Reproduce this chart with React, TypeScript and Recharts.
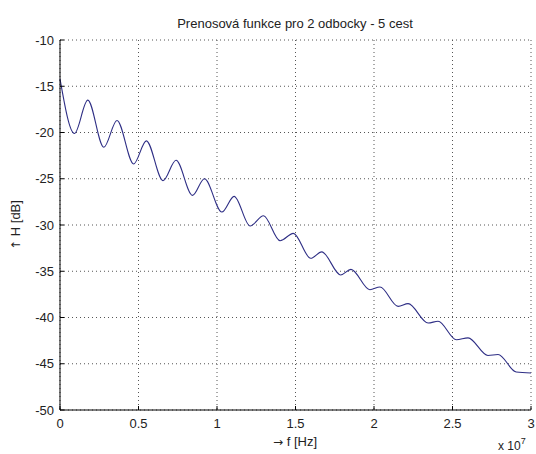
import { LineChart, Line, XAxis, YAxis, CartesianGrid } from "recharts";

// frequency in units of 1e7 Hz at ripple peaks/troughs
const freqE7 = [
  0, 0.092, 0.177, 0.279, 0.363, 0.469, 0.55, 0.656, 0.739, 0.844, 0.92,
  1.031, 1.109, 1.211, 1.296, 1.402, 1.486, 1.597, 1.667, 1.788, 1.853,
  1.974, 2.038, 2.154, 2.217, 2.345, 2.408, 2.525, 2.599, 2.726, 2.79, 2.906, 3.0,
];
const gainDb = [
  -14.2, -20.1, -16.5, -21.6, -18.7, -23.4, -20.9, -25.2, -23.0, -26.8, -25.0,
  -28.6, -26.9, -30.1, -29.0, -31.7, -30.9, -33.6, -32.9, -35.4, -34.8,
  -37.0, -36.7, -38.8, -38.5, -40.6, -40.4, -42.4, -42.2, -44.1, -44.0, -45.9, -46.0,
];
const xTicks = [0, 0.5, 1, 1.5, 2, 2.5, 3].map((v) => v * 1e7);
const yTicks = [-50, -45, -40, -35, -30, -25, -20, -15, -10];

const data = freqE7.map((f, i) => ({ f: f * 1e7, h: gainDb[i] }));

const FONT = "'Liberation Sans', Arial, Helvetica, sans-serif";
const ARROW_FONT = "'DejaVu Sans', sans-serif";
const TXT = "#222";
const Y_MARGIN = 6;

function YTick(props: any) {
  const { x, y, payload } = props;
  const ax = x + Y_MARGIN;
  return (
    <g>
      <line x1={ax} x2={ax + 4} y1={y} y2={y} stroke="#000" />
      <text x={x} y={y + 4.5} textAnchor="end" fontSize={13} fontFamily={FONT} fill={TXT}>
        {payload.value}
      </text>
    </g>
  );
}

function XTick(props: any) {
  const { x, y, payload } = props;
  return (
    <g>
      <line x1={x} x2={x} y1={y} y2={y - 4} stroke="#000" />
      <text x={x} y={y + 18} textAnchor="middle" fontSize={13} fontFamily={FONT} fill={TXT}>
        {payload.value / 1e7}
      </text>
    </g>
  );
}

export default function App() {
  return (
    <div style={{ position: "absolute", left: 0, top: 0, width: 536, height: 454, background: "#fff" }}>
      <LineChart width={536} height={454} data={data} margin={{ top: 40, right: 5, bottom: 0, left: 0 }}>
        <CartesianGrid stroke="#555" strokeDasharray="1 3" />
        <XAxis
          dataKey="f"
          type="number"
          domain={[0, 3e7]}
          ticks={xTicks}
          height={44}
          tickSize={0}
          tickMargin={0}
          axisLine={{ stroke: "#000" }}
          tick={<XTick />}
          interval={0}
        />
        <YAxis
          type="number"
          domain={[-50, -10]}
          ticks={yTicks}
          width={60}
          tickSize={0}
          tickMargin={Y_MARGIN}
          axisLine={{ stroke: "#000" }}
          tick={<YTick />}
          interval={0}
        />
        <Line
          type="monotone"
          dataKey="h"
          stroke="#2e2e85"
          strokeWidth={1.1}
          dot={false}
          isAnimationActive={false}
        />
      </LineChart>
      <svg
        width={536}
        height={454}
        style={{ position: "absolute", left: 0, top: 0, pointerEvents: "none" }}
        fontFamily={FONT}
        fill={TXT}
        fontSize={13}
      >
        <text x={295} y={28} textAnchor="middle">
          Prenosová funkce pro 2 odbocky - 5 cest
        </text>
        <text x={295} y={446} textAnchor="middle">
          <tspan fontFamily={ARROW_FONT} fontSize={12}>→</tspan> f [Hz]
        </text>
        <text x={20} y={225} textAnchor="middle" transform="rotate(-90 20 225)">
          <tspan fontFamily={ARROW_FONT} fontSize={12}>↑</tspan> H [dB]
        </text>
        <text x={498} y={450} fontSize={12}>
          x 10
          <tspan fontSize={9} dy={-6}>
            7
          </tspan>
        </text>
      </svg>
    </div>
  );
}
